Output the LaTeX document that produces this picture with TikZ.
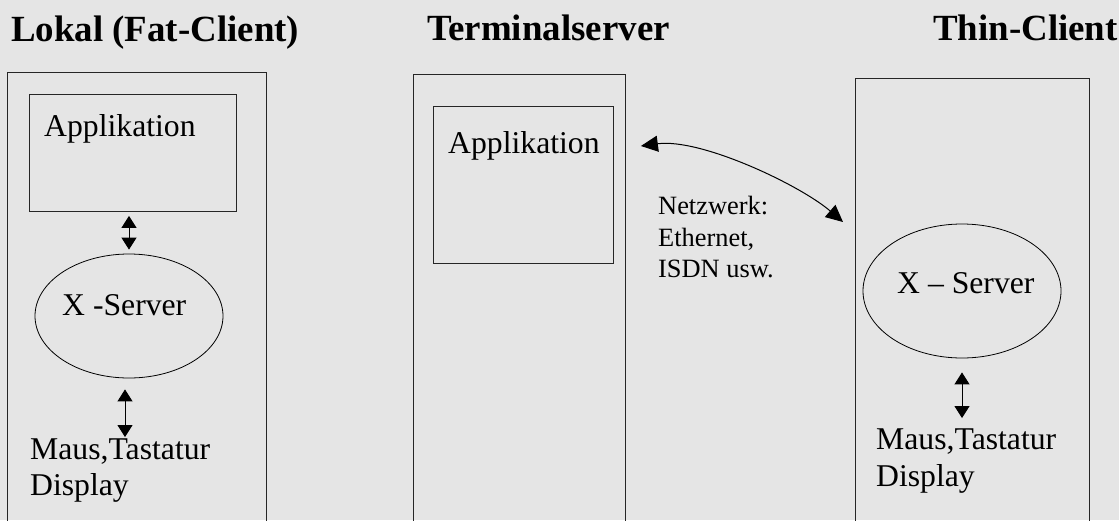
\documentclass[tikz,border=0pt]{standalone}
\usepackage{fontspec}
\setmainfont{Liberation Serif}
\usetikzlibrary{shapes.geometric,arrows.meta,calc}
\begin{document}
\begin{tikzpicture}[x=1pt,y=-1pt,
  frame/.style={draw=black!85, line width=0.9pt, inner sep=0pt, anchor=north west},
  oval/.style={ellipse, draw=black, line width=0.8pt, inner sep=0pt},
  txt/.style={anchor=base west, inner sep=0pt, font=\fontsize{31.7}{36}\selectfont},
  small/.style={anchor=base west, inner sep=0pt, font=\fontsize{26.4}{31}\selectfont},
  title/.style={anchor=base west, inner sep=0pt, font=\bfseries\fontsize{36.9}{40}\selectfont},
  dbl/.style={{Triangle[width=15pt,length=12pt]}-{Triangle[width=15pt,length=12pt]}, line width=1pt},
  curved/.style={{Triangle[width=16pt,length=17pt]}-{Triangle[width=16pt,length=17pt]}, line width=1pt}]
\fill[black!10] (0,0) rectangle (1119,520);
\useasboundingbox (0,0) rectangle (1119,520);
\clip (0,0) rectangle (1119,520);
% titles
\node[title] (h1) at (11,41) {Lokal (Fat-Client)};
\node[title] (h2) at (427,40) {Terminalserver};
\node[title] (h3) at (933,40) {Thin-Client};
% outer frames
\node[frame, minimum width=259pt, minimum height=470pt] (box1) at (7,72) {};
\node[frame, minimum width=212pt, minimum height=470pt] (box2) at (413,74) {};
\node[frame, minimum width=234pt, minimum height=470pt] (box3) at (855,78) {};
% application boxes
\node[frame, minimum width=207pt, minimum height=117pt] (app1) at (29,94) {};
\node[frame, minimum width=180pt, minimum height=157pt] (app2) at (433,106) {};
% ellipses
\node[oval, minimum width=188pt, minimum height=124pt] (ell1) at (129,316) {};
\node[oval, minimum width=198pt, minimum height=134pt] (ell2) at (962,291) {};
% texts
\node[txt] (a1) at (44,136) {Applikation};
\node[txt] (a2) at (448,153) {Applikation};
\node[txt] (x1) at (62,315) {X -Server};
\node[txt] (x2) at (897,293) {X – Server};
\node[txt] (maus1) at (30,459) {Maus,Tastatur};
\node[txt] (disp1) at (30,495) {Display};
\node[txt] (maus2) at (876,449) {Maus,Tastatur};
\node[txt] (disp2) at (876,486) {Display};
\node[small] (n1) at (658,214) {Netzwerk:};
\node[small] (n2) at (658,246) {Ethernet,};
\node[small] (n3) at (658,277) {ISDN usw.};
% arrows
\draw[dbl, shorten <=4pt, shorten >=4pt] (app1.south -| ell1.north) -- (ell1.north);
\draw[dbl, shorten <=11pt, shorten >=1pt] ([xshift=-4pt]ell1.south) -- ([xshift=-4pt]ell1.south |- maus1.north);
\draw[dbl, shorten <=14pt, shorten >=10pt] (ell2.south) -- (ell2.south |- maus2.north);
\draw[curved] ($(app2.north east)+(27,40)$) .. controls ($(app2.north east)+(87,32)$) and ($(box3.north west)+(-55,107)$) .. ($(box3.north west)+(-12,144)$);
\end{tikzpicture}
\end{document}
